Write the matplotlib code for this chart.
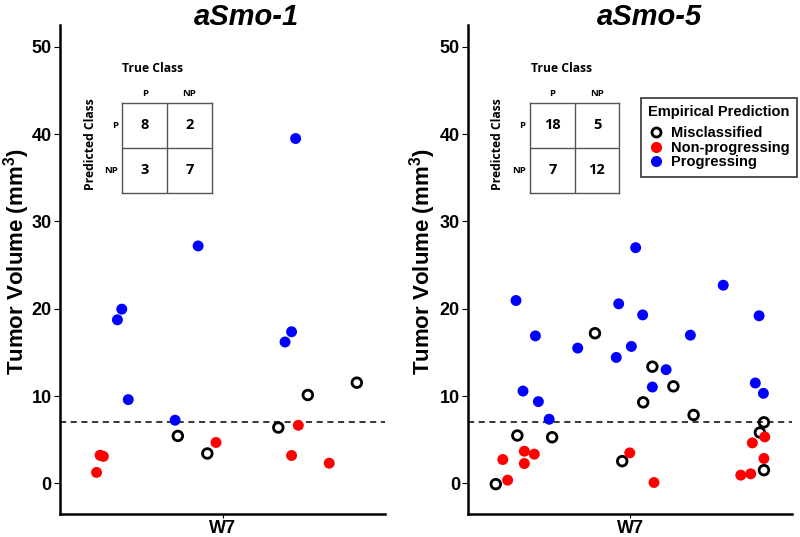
import matplotlib
matplotlib.use("Agg")
import matplotlib.pyplot as plt
from matplotlib.lines import Line2D

plt.rcParams['font.family'] = ['Liberation Sans', 'DejaVu Sans']
plt.rcParams['mathtext.fontset'] = 'custom'
plt.rcParams['mathtext.rm'] = 'Liberation Sans:bold'
plt.rcParams['mathtext.bf'] = 'Liberation Sans:bold'

# ---------------- data ----------------
titles = ["aSmo-1", "aSmo-5"]
category = "W7"
threshold = 7.0

# aSmo-1 (x = jittered position around category W7 at 1)
s1_mis_x = [0.835, 0.944, 1.206, 1.315, 1.496]
s1_mis_y = [5.44, 3.43, 6.40, 10.13, 11.54]
s1_non_x = [0.535, 0.548, 0.560, 0.976, 1.255, 1.280, 1.394]
s1_non_y = [1.26, 3.23, 3.10, 4.69, 3.20, 6.66, 2.32]
s1_pro_x = [0.612, 0.628, 0.652, 0.825, 0.910, 1.231, 1.255, 1.270]
s1_pro_y = [18.74, 19.96, 9.60, 7.24, 27.2, 16.2, 17.37, 39.5]

# aSmo-5
s5_mis_x = [0.502, 0.582, 0.711, 0.870, 0.971, 1.049, 1.083, 1.161, 1.236, 1.482, 1.497, 1.497]
s5_mis_y = [-0.08, 5.49, 5.29, 17.2, 2.55, 9.29, 13.37, 11.12, 7.84, 5.83, 7.00, 1.52]
s5_non_x = [0.528, 0.546, 0.608, 0.608, 0.645, 0.999, 1.089, 1.411, 1.448, 1.454, 1.500, 1.497]
s5_non_y = [2.74, 0.38, 3.69, 2.28, 3.35, 3.50, 0.11, 0.95, 1.10, 4.64, 5.33, 2.86]
s5_pro_x = [0.577, 0.603, 0.649, 0.660, 0.700, 0.806, 0.949, 0.958, 1.005, 1.021,
            1.047, 1.083, 1.134, 1.224, 1.346, 1.465, 1.479, 1.495]
s5_pro_y = [20.95, 10.58, 16.9, 9.37, 7.35, 15.5, 14.43, 20.57, 15.69, 27.0,
            19.3, 11.04, 13.03, 16.98, 22.7, 11.5, 19.2, 10.32]

# confusion matrices [[PP, PNP], [NPP, NPNP]]  rows = predicted, cols = true
conf1 = [[8, 2], [3, 7]]
conf5 = [[18, 5], [7, 12]]
class_labels = ["P", "NP"]
legend_labels = ["Misclassified", "Non-progressing", "Progressing"]
yticks = [0, 10, 20, 30, 40, 50]

RED = "#FF0000"
BLUE = "#0000FF"

W, H = 800, 537
fig = plt.figure(figsize=(W / 100, H / 100), dpi=100)


def fx(px):
    return px / W


def fy(py):
    return 1 - py / H


panels = [
    dict(left=60, right=385, title_x=246, ylab_x=17,
         mis=(s1_mis_x, s1_mis_y), non=(s1_non_x, s1_non_y), pro=(s1_pro_x, s1_pro_y),
         conf=conf1, grid=(122.3, 211.7), tc_x=153, pc_x=90),
    dict(left=468.3, right=791.7, title_x=649, ylab_x=423,
         mis=(s5_mis_x, s5_mis_y), non=(s5_non_x, s5_non_y), pro=(s5_pro_x, s5_pro_y),
         conf=conf5, grid=(530.0, 619.3), tc_x=561.7, pc_x=497.7),
]

top_px, bot_px = 25, 514
for i, p in enumerate(panels):
    ax = fig.add_axes([fx(p['left']), fy(bot_px), (p['right'] - p['left']) / W, (bot_px - top_px) / H])
    ax.set_xlim(0.4, 1.6)
    ax.set_ylim(-3.5, 52.5)
    for s in ['top', 'right']:
        ax.spines[s].set_visible(False)
    for s in ['left', 'bottom']:
        ax.spines[s].set_linewidth(1.8)
    ax.set_yticks(yticks)
    ax.set_yticklabels([str(t) for t in yticks], fontsize=13, fontweight='bold')
    ax.set_xticks([1])
    ax.set_xticklabels([category], fontsize=13, fontweight='bold')
    ax.tick_params(axis='y', length=4, width=0.8, pad=2)
    ax.tick_params(axis='x', length=3, width=0.8, pad=1.2)
    ax.axhline(threshold, color='black', lw=1.1, ls=(0, (4, 3)), zorder=1)

    ax.scatter(*p['mis'], s=48, facecolors='none', edgecolors='black', linewidths=2.0, zorder=3)
    ax.scatter(*p['non'], s=62, color=RED, edgecolors='none', zorder=4)
    ax.scatter(*p['pro'], s=62, color=BLUE, edgecolors='none', zorder=4)

    fig.text(fx(p['title_x']), fy(17), titles[i], fontsize=21, fontweight='bold',
             fontstyle='italic', ha='center', va='center')
    fig.text(fx(p['ylab_x']), fy(262), r"Tumor Volume (mm$^{3}$)", fontsize=16,
             fontweight='bold', rotation=90, ha='center', va='center')

    # confusion matrix inset
    gx0, gx1 = p['grid']
    gy0, gy1 = 102.7, 192.7
    tax = fig.add_axes([fx(gx0), fy(gy1), (gx1 - gx0) / W, (gy1 - gy0) / H])
    tax.set_xlim(0, 2)
    tax.set_ylim(0, 2)
    tax.set_xticks([])
    tax.set_yticks([])
    for s in tax.spines.values():
        s.set_color('#555555')
        s.set_linewidth(1.0)
    tax.axhline(1, color='#555555', lw=1.0)
    tax.axvline(1, color='#555555', lw=1.0)
    tf = ['Open Sans', 'DejaVu Sans']
    for r in range(2):
        for c in range(2):
            tax.text(c + 0.5, 1.5 - r, str(p['conf'][r][c]), ha='center', va='center',
                     fontsize=10.5, fontweight='bold', family=tf)
        tax.text(-0.1, 1.5 - r, class_labels[r], ha='right', va='center',
                 fontsize=6.8, fontweight='bold', family=tf, clip_on=False)
    for c in range(2):
        tax.text(c + 0.5, 2.1, class_labels[c], ha='center', va='bottom',
                 fontsize=6.8, fontweight='bold', family=tf, clip_on=False)
    fig.text(fx(p['tc_x']), fy(69), "True Class", ha='center', va='center',
             fontsize=8.7, fontweight='bold', family=tf)
    fig.text(fx(p['pc_x']), fy(144), "Predicted Class", ha='center', va='center',
             fontsize=8.7, fontweight='bold', family=tf, rotation=90)

handles = [
    Line2D([], [], ls='none', marker='o', markersize=6.5, markerfacecolor='none',
           markeredgecolor='black', markeredgewidth=2.0),
    Line2D([], [], ls='none', marker='o', markersize=8, markerfacecolor=RED, markeredgecolor='none'),
    Line2D([], [], ls='none', marker='o', markersize=8, markerfacecolor=BLUE, markeredgecolor='none'),
]
leg = fig.legend(handles, legend_labels, title="Empirical Prediction", loc='upper left',
                 bbox_to_anchor=(fx(640.7), fy(97.7)), borderaxespad=0, frameon=True,
                 fancybox=False, edgecolor='black', prop=dict(size=10.5, weight='bold'),
                 title_fontproperties=dict(size=10.5, weight='bold'),
                 labelspacing=0.05, handletextpad=0.45, handlelength=1.1,
                 borderpad=0.5, alignment='left')
leg.get_frame().set_linewidth(1.2)
leg._legend_box.sep = 5.0

fig.savefig("out.png", dpi=100)
